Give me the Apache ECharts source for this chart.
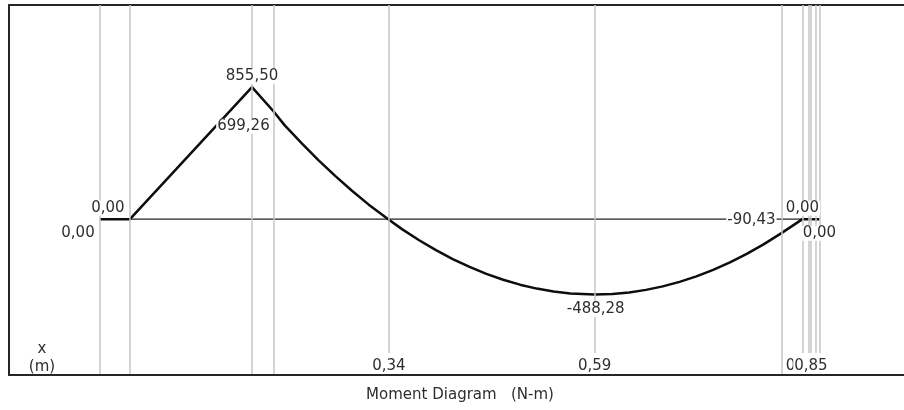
<!DOCTYPE html>
<html>
<head>
<meta charset="utf-8">
<title>Moment Diagram</title>
<script src="https://cdn.jsdelivr.net/npm/echarts@6/dist/echarts.min.js"></script>
<style>
  html, body { margin: 0; padding: 0; background: #ffffff; }
  #chart { width: 904px; height: 410px; }
</style>
</head>
<body>
<div id="chart"></div>
<script>
// Beam stations along x (m): supports, load changes and section ends
const stations = [0, 0.0357, 0.181, 0.2065, 0.344, 0.589, 0.8113, 0.8363, 0.844, 0.8464, 0.8518, 0.8565];
// Stations that carry a position label under the diagram
const tickStations = [0.344, 0.589, 0.8363, 0.844, 0.8464];

// Bending moment M(x) in N-m
const momentX = [0, 0.0357, 0.181, 0.2065, 0.22, 0.24, 0.26, 0.28, 0.30, 0.32, 0.344, 0.36, 0.38, 0.40,
  0.42, 0.44, 0.46, 0.48, 0.50, 0.52, 0.54, 0.56, 0.589, 0.61, 0.63, 0.65, 0.67, 0.69, 0.71, 0.73,
  0.75, 0.77, 0.79, 0.8113, 0.8363, 0.8565];
const momentM = [0, 0, 855.5, 699.26, 607.8, 492.2, 383.0, 280.3, 184.1, 94.2, -4, -66.2, -136.7, -200.8,
  -258.4, -309.6, -354.3, -392.7, -424.5, -450.0, -469.0, -481.5, -488.28, -484.7, -474.8, -458.3, -435.5, -406.2, -370.4, -328.3,
  -279.6, -224.6, -163.1, -90.43, 0, 0];

// Beam reference line (M = 0) between the two ends
const beamX = [0, 0.8565];

// Points whose moment value is printed
const labelX = [0, 0.0357, 0.181, 0.2065, 0.589, 0.8113, 0.8363, 0.8565];
const labelM = [0, 0, 855.5, 699.26, -488.28, -90.43, 0, 0];

const labelOffsets = [[-22, 14], [-22, -11], [0, -11], [-30, 15], [1, 15], [-30, -13], [0, -11], [0, 14]];

const FONT = 'DejaVu Sans';
const TEXT = '#2e2e2e';
const FRAME = '#262626';
const X_MIN = -0.1083, X_MAX = 0.9572;
const fmt = v => v.toFixed(2).replace('.', ',');

const chart = echarts.init(document.getElementById('chart'), null, { renderer: 'canvas' });

chart.setOption({
  animation: false,
  backgroundColor: '#ffffff',
  grid: { left: 9, right: 0, top: 5, bottom: 35, containLabel: false },
  xAxis: [
    {
      type: 'value', position: 'bottom',
      min: X_MIN, max: X_MAX,
      axisLine: { show: true, onZero: false, lineStyle: { color: FRAME, width: 2 } },
      axisTick: { show: false, customValues: stations },
      splitLine: { show: true, lineStyle: { color: '#c6c6c6', width: 1.5 } },
      axisLabel: {
        customValues: tickStations,
        hideOverlap: false,
        showMinLabel: true,
        showMaxLabel: true,
        inside: true,
        margin: 1,
        formatter: v => fmt(v),
        fontFamily: FONT, fontSize: 15, color: TEXT,
        backgroundColor: '#ffffff',
        padding: [5, 1, 0, 1],
        lineHeight: 16
      },
      z: 4
    },
    {
      // top edge of the frame
      type: 'value', position: 'top',
      min: X_MIN, max: X_MAX,
      axisLine: { show: true, onZero: false, lineStyle: { color: FRAME, width: 2 } },
      axisTick: { show: false }, axisLabel: { show: false }, splitLine: { show: false }
    }
  ],
  yAxis: {
    type: 'value', min: -1010, max: 1388,
    axisLine: { show: true, onZero: false, lineStyle: { color: FRAME, width: 2 } },
    axisTick: { show: false }, axisLabel: { show: false }, splitLine: { show: false }
  },
  series: [
    {
      type: 'line',
      data: beamX.map(x => [x, 0]),
      symbol: 'none',
      lineStyle: { color: '#222222', width: 1.1 },
      z: 2, silent: true
    },
    {
      type: 'line',
      data: momentX.map((x, i) => [x, momentM[i]]),
      symbol: 'none',
      lineStyle: { color: '#0d0d0d', width: 2.5 },
      z: 3, silent: true
    },
    {
      type: 'scatter',
      symbolSize: 0,
      z: 5, silent: true,
      itemStyle: { opacity: 1 },
      data: labelX.map((x, i) => ({
        value: [x, labelM[i]],
        label: { offset: labelOffsets[i] }
      })),
      label: {
        show: true,
        position: 'inside',
        formatter: p => fmt(p.value[1]),
        fontFamily: FONT, fontSize: 15, color: TEXT, opacity: 1,
        backgroundColor: '#ffffff',
        padding: [0, 1]
      }
    }
  ],
  graphic: [
    {
      type: 'text', x: 42, y: 358, z: 10,
      style: {
        text: 'x\n(m)', align: 'center', verticalAlign: 'middle',
        fontFamily: FONT, fontSize: 15, lineHeight: 18, fill: TEXT
      }
    },
    {
      type: 'text', x: 460, y: 395, z: 10,
      style: {
        text: 'Moment Diagram   (N-m)', align: 'center', verticalAlign: 'middle',
        fontFamily: FONT, fontSize: 15, fill: TEXT
      }
    }
  ]
});
</script>
</body>
</html>
